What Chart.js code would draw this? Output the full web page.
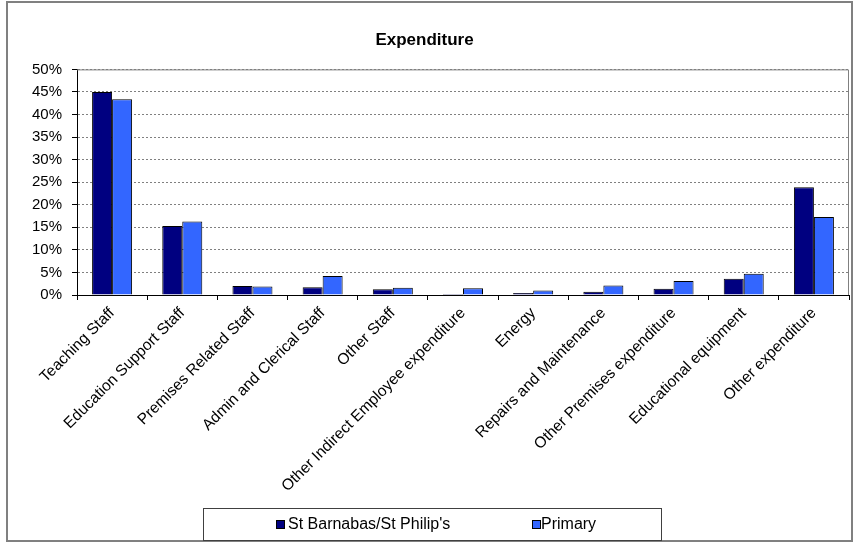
<html>
<head>
<script src="https://cdn.jsdelivr.net/npm/chart.js@4.4.0/dist/chart.umd.min.js"></script>
<style>
body { margin: 0; background: #fff; }
</style>
</head>
<body>
<canvas id="expenditure" width="855" height="544"></canvas>
<script>

// categories and values (percent of total expenditure)
var categories = ['Teaching Staff', 'Education Support Staff', 'Premises Related Staff', 'Admin and Clerical Staff',
	'Other Staff', 'Other Indirect Employee expenditure', 'Energy', 'Repairs and Maintenance',
	'Other Premises expenditure', 'Educational equipment', 'Other expenditure'];
var school_values = [45.0, 15.3, 2.0, 1.7, 1.3, 0.2, 0.45, 0.7, 1.4, 3.6, 23.9];
var primary_values = [43.4, 16.3, 1.9, 4.2, 1.6, 1.5, 1.0, 2.1, 3.1, 4.7, 17.3];
var series_names = ["St Barnabas/St Philip's", 'Primary'];
var y_ticks = [0, 5, 10, 15, 20, 25, 30, 35, 40, 45, 50];

var font_family = "'Liberation Sans', Arial, sans-serif";

// frame, plot border and the boxed legend (excel style)
var excelBits = {
	id: 'excelBits',
	beforeDatasetsDraw: function(chart) {
		var ctx = chart.ctx, a = chart.chartArea;
		ctx.save();
		ctx.strokeStyle = '#808080';
		ctx.lineWidth = 1;
		ctx.beginPath();
		ctx.moveTo(a.left, a.top + 0.5);
		ctx.lineTo(a.right - 0.5, a.top + 0.5);
		ctx.lineTo(a.right - 0.5, a.bottom);
		ctx.stroke();
		ctx.restore();
	},
	afterDraw: function(chart) {
		var ctx = chart.ctx;
		ctx.save();
		// outer frame
		ctx.strokeStyle = '#808080';
		ctx.lineWidth = 2;
		ctx.strokeRect(7, 2, 845, 539);
		// legend box
		ctx.strokeStyle = '#404040';
		ctx.lineWidth = 1;
		ctx.strokeRect(203.5, 508.5, 458, 32);
		var items = [{box: 276, text: 288}, {box: 532, text: 541}];
		ctx.font = '16px ' + font_family;
		ctx.textBaseline = 'middle';
		chart.data.datasets.forEach(function(ds, i) {
			ctx.fillStyle = ds.backgroundColor;
			ctx.fillRect(items[i].box + 0.5, 520.5, 8, 8);
			ctx.strokeStyle = '#000';
			ctx.strokeRect(items[i].box + 0.5, 520.5, 8, 8);
			ctx.fillStyle = '#000';
			ctx.fillText(ds.label, items[i].text, 525);
		});
		ctx.restore();
	}
};

var config = {
	type: 'bar',
	data: {
		labels: categories,
		datasets: [{
			label: series_names[0],
			backgroundColor: '#000080',
			borderColor: '#000',
			borderWidth: 1,
			data: school_values
		}, {
			label: series_names[1],
			backgroundColor: '#3366FF',
			borderColor: '#000',
			borderWidth: 1,
			data: primary_values
		}]
	},
	options: {
		responsive: false,
		animation: false,
		categoryPercentage: 0.57,
		barPercentage: 1.0,
		layout: {
			padding: { left: 0, right: 6, top: 0, bottom: 0 }
		},
		plugins: {
			legend: { display: false },
			tooltip: { enabled: false },
			title: {
				display: true,
				text: 'Expenditure',
				color: '#000',
				font: { family: font_family, size: 17, weight: 'bold' },
				padding: { top: 30, bottom: 19 }
			}
		},
		scales: {
			x: {
				grid: { drawOnChartArea: false, drawTicks: true, tickLength: 5, tickColor: '#000' },
				border: { color: '#000', width: 1 },
				ticks: {
					autoSkip: false, minRotation: 45, maxRotation: 45, padding: 4,
					color: '#000', font: { family: font_family, size: 15.5 }
				},
				afterFit: function(scale) { scale.height = 249; }
			},
			y: {
				min: y_ticks[0],
				max: y_ticks[y_ticks.length - 1],
				afterBuildTicks: function(scale) {
					scale.ticks = y_ticks.map(function(v) { return {value: v}; });
				},
				grid: { color: '#808080', tickColor: '#000', tickLength: 5 },
				border: { color: '#000', width: 1, dash: [2, 2] },
				ticks: {
					padding: 10, color: '#000', font: { family: font_family, size: 15 },
					callback: function(v) { return v + '%'; }
				},
				afterFit: function(scale) { scale.width = 77; }
			}
		}
	},
	plugins: [excelBits]
};

var chart = new Chart(document.getElementById('expenditure'), config);
</script>
</body>
</html>
